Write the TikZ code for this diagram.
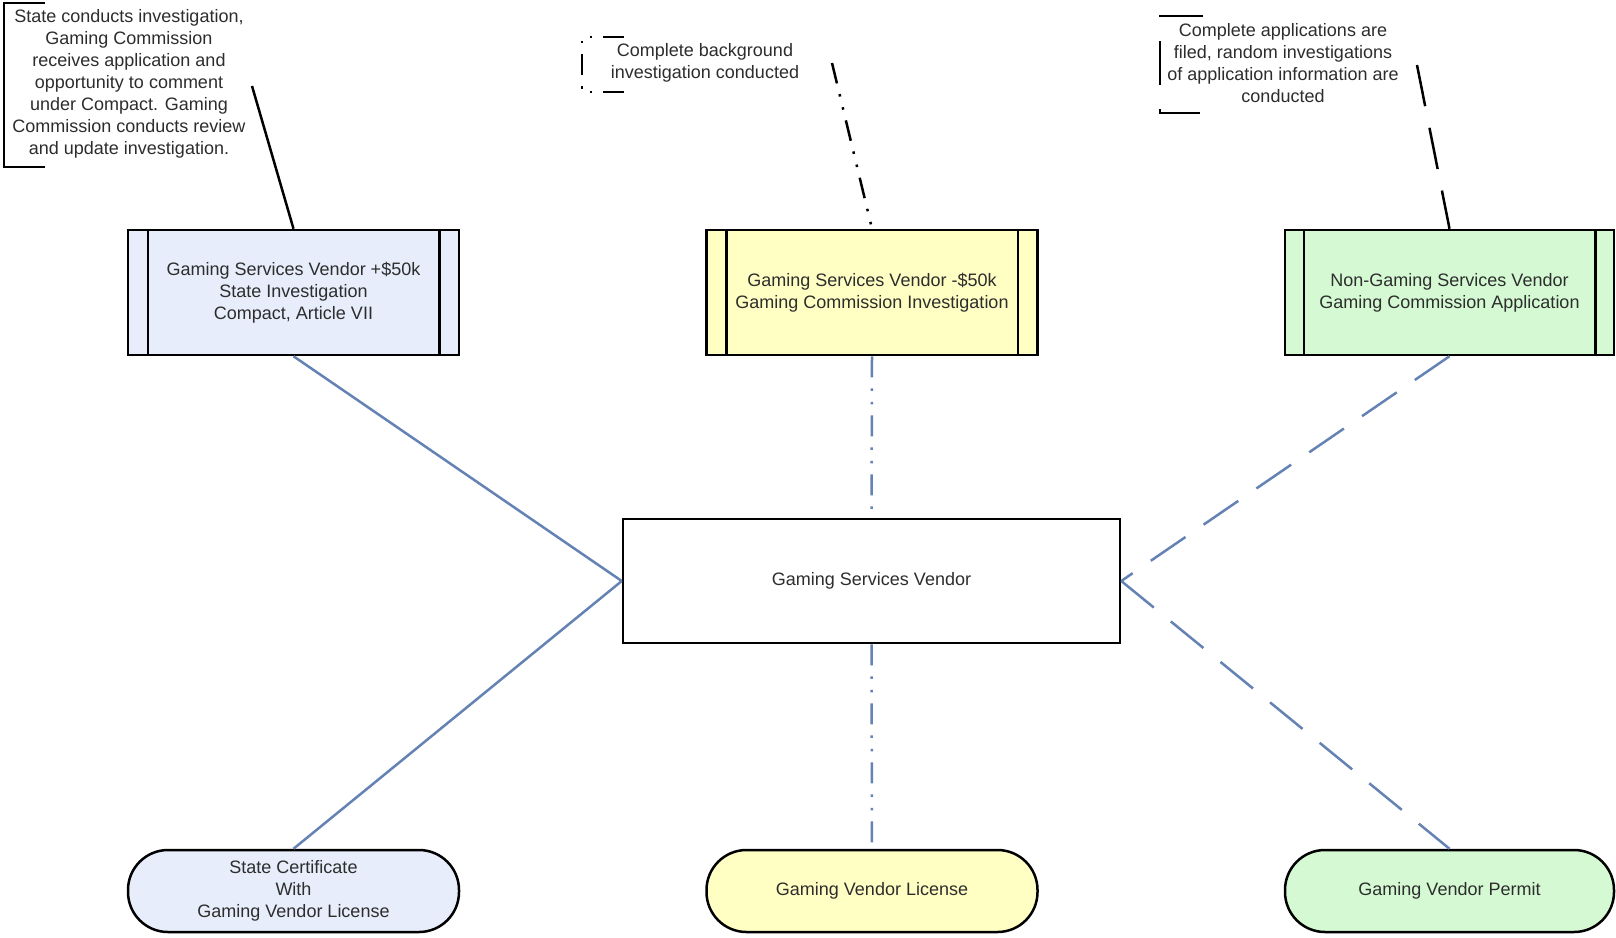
\documentclass[tikz,border=0pt]{standalone}
\usepackage{fontspec}
\setmainfont{Liberation Sans}
\definecolor{fblue}{RGB}{231,237,250}
\definecolor{fyellow}{RGB}{255,255,196}
\definecolor{fgreen}{RGB}{213,250,211}
\definecolor{connc}{RGB}{100,130,180}
\definecolor{txtc}{RGB}{45,45,45}
\newcommand\diagfont{\fontsize{18}{22}\selectfont}
\begin{document}
\begin{tikzpicture}[x=1pt,y=-1pt,
  proc/.style={draw=black, line width=2.5pt, minimum width=331pt, minimum height=125pt, inner sep=0pt, align=center, font=\diagfont, text=txtc},
  term/.style={draw=black, line width=2.5pt, rounded corners=40pt, minimum width=331pt, minimum height=82pt, inner sep=0pt, align=center, font=\diagfont, text=txtc},
  mainbox/.style={draw=black, line width=2.5pt, minimum width=497pt, minimum height=124pt, inner sep=0pt, align=center, font=\diagfont, text=txtc, fill=white},
  note/.style={align=center, font=\diagfont, text=txtc, inner sep=0pt},
  conn/.style={draw=connc, line width=2.5pt},
  nline/.style={draw=black, line width=2.5pt},
  ddot/.style={dash pattern=on 21pt off 11pt on 2.5pt off 11pt on 2.5pt off 11pt},
  ldash/.style={dash pattern=on 42pt off 22pt}
]
\useasboundingbox[fill=white] (0,0) rectangle (1616,937);

% main nodes
\node[proc, fill=fblue] (b1) at (293.5,292.5) {Gaming Services Vendor +\$50k\\State Investigation\\Compact, Article VII};
\node[proc, fill=fyellow] (b2) at (872,292.5) {Gaming Services Vendor -\$50k\\Gaming Commission Investigation};
\node[proc, fill=fgreen, minimum width=329pt] (b3) at (1449.5,292.5) {Non-Gaming Services Vendor\\Gaming Commission Application};
\node[mainbox] (c) at (871.5,581) {Gaming Services Vendor};
\node[term, fill=fblue] (t1) at (293.5,891) {State Certificate\\With\\Gaming Vendor License};
\node[term, fill=fyellow] (t2) at (872,891) {Gaming Vendor License};
\node[term, fill=fgreen, minimum width=329pt] (t3) at (1449.5,891) {Gaming Vendor Permit};

% inner lines of process boxes
\foreach \n/\o in {b1/21,b2/21,b3/20} {
  \draw[line width=2.5pt] ([xshift=\o pt]\n.north west) -- ([xshift=\o pt]\n.south west);
  \draw[line width=2.5pt] ([xshift=-\o pt]\n.north east) -- ([xshift=-\o pt]\n.south east);
}

% notes
\node[note] (n1) at (129,84) {State conducts investigation,\\Gaming Commission\\receives application and\\opportunity to comment\\under Compact. Gaming\\Commission conducts review\\and update investigation.};
\node[note] (n2) at (705,63) {Complete background\\investigation conducted};
\node[note] (n3) at (1283,63) {Complete applications are\\filed, random investigations\\of application information are\\conducted};

% note brackets
\draw[nline] (45,3) -- (4,3) -- (4,167) -- (45,167);
\draw[nline, dash pattern=on 21pt off 11pt on 2.5pt off 11pt on 2.5pt off 11pt, dash phase=-1pt] (625,37) -- (582,37) -- (582,92) -- (625,92);
\draw[nline, dash pattern=on 44pt off 24pt] (1203,16) -- (1160,16) -- (1160,113) -- (1200,113);

% note leaders
\coordinate (n1c) at (252,86);
\coordinate (n2c) at (832,63);
\coordinate (n3c) at (1417,65);
\draw[nline] (n1c) -- (b1.north);
\draw[nline, ddot] (n2c) -- (b2.north);
\draw[nline, ldash] (n3c) -- (b3.north);

% connectors
\draw[conn] (b1.south) -- (c.west);
\draw[conn] (t1.north) -- (c.west);
\draw[conn, ddot] (b2.south) -- (c.north);
\draw[conn, ddot] (c.south) -- (t2.north);
\draw[conn, ldash] (b3.south) -- (c.east);
\draw[conn, ldash] (c.east) -- (t3.north);
\end{tikzpicture}
\end{document}
